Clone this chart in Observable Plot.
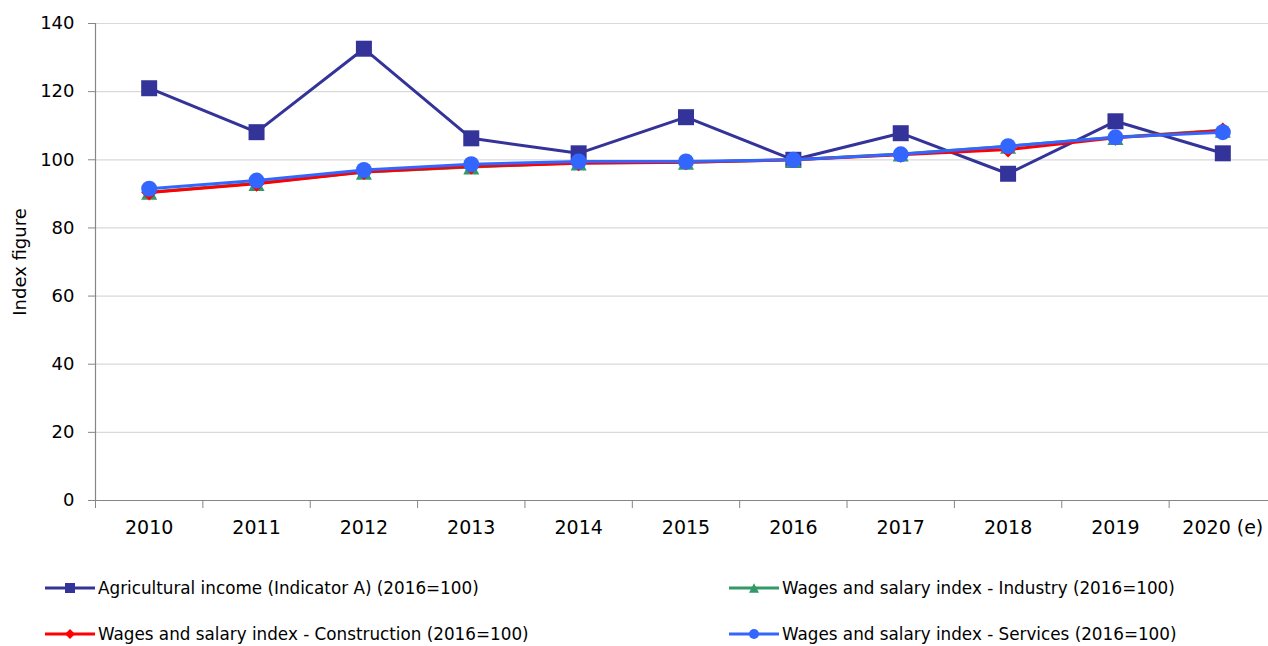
<!DOCTYPE html>
<html>
<head>
<meta charset="utf-8">
<script src="https://cdn.jsdelivr.net/npm/d3@7"></script>
<script src="https://cdn.jsdelivr.net/npm/@observablehq/plot@0.6"></script>
<style>
  html, body { margin: 0; padding: 0; background: #fff; }
  #wrap { position: relative; width: 1268px; height: 646px; overflow: hidden; font-family: "DejaVu Sans", Verdana, sans-serif; }
  #chart { position: absolute; left: 0; top: 0; }
  .lg { position: absolute; display: flex; align-items: center; font-size: 16.8px; line-height: 20px; color: #000; white-space: nowrap; }
  .lg svg { display: block; margin-right: 3px; }
</style>
</head>
<body>
<div id="wrap"><div id="chart"></div></div>
<script>
// ---- data ----
const years = [2010, 2011, 2012, 2013, 2014, 2015, 2016, 2017, 2018, 2019, 2020];
const yearLabels = ["2010", "2011", "2012", "2013", "2014", "2015", "2016", "2017", "2018", "2019", "2020 (e)"];
const agricultural = [121.0, 108.1, 132.6, 106.3, 101.9, 112.5, 100.0, 107.8, 95.9, 111.3, 101.9];
const industry     = [90.5, 93.1, 96.4, 97.9, 99.1, 99.3, 100.0, 101.7, 104.0, 106.6, 108.7];
const construction = [90.4, 93.0, 96.4, 98.0, 99.0, 99.3, 100.0, 101.5, 103.0, 106.5, 108.6];
const services     = [91.5, 93.9, 97.0, 98.7, 99.5, 99.5, 100.0, 101.6, 104.0, 106.6, 108.1];
const seriesNames = [
  "Agricultural income (Indicator A) (2016=100)",
  "Wages and salary index - Industry (2016=100)",
  "Wages and salary index - Construction (2016=100)",
  "Wages and salary index - Services (2016=100)"
];
const seriesValues = [agricultural, industry, construction, services];
const seriesColors = ["#333399", "#339966", "#ff0000", "#3366ff"];
const seriesShapes = ["square", "triangle", "diamond", "circle"];
const yTicks = [0, 20, 40, 60, 80, 100, 120, 140];
const yTitle = "Index figure";

// ---- marker shapes (centred on their bounding box, like spreadsheet markers) ----
function makeSymbol(kind) {
  return {
    draw(ctx, size) {
      const r = Math.sqrt(size / Math.PI);
      if (kind === "square") {
        ctx.moveTo(-r, -r); ctx.lineTo(r, -r); ctx.lineTo(r, r); ctx.lineTo(-r, r); ctx.closePath();
      } else if (kind === "triangle") {
        const h = r * 0.95;
        ctx.moveTo(0, -h); ctx.lineTo(r, h); ctx.lineTo(-r, h); ctx.closePath();
      } else if (kind === "diamond") {
        ctx.moveTo(0, -r); ctx.lineTo(r, 0); ctx.lineTo(0, r); ctx.lineTo(-r, 0); ctx.closePath();
      } else {
        ctx.moveTo(r, 0); ctx.arc(0, 0, r, 0, 2 * Math.PI); ctx.closePath();
      }
    }
  };
}

const xDomain = [years[0] - 0.5, years[years.length - 1] + 0.5];
const boundaries = years.map(y => y - 0.5);
const axisGray = "#868686";

const marks = [
  Plot.gridY(yTicks, {stroke: "#d9d9d9", strokeOpacity: 1, strokeWidth: 1.2}),
  Plot.ruleY([0], {stroke: axisGray, strokeWidth: 1.2}),
  Plot.ruleX([xDomain[0]], {y1: yTicks[0], y2: yTicks[yTicks.length - 1], stroke: axisGray, strokeWidth: 1.2}),
  Plot.axisY(yTicks, {tickSize: 7, tickPadding: 14, stroke: axisGray, label: null, fontSize: 18}),
  Plot.axisX(boundaries, {tickSize: 8, tickFormat: () => "", stroke: axisGray, label: null}),
  Plot.axisX(years, {tickSize: 0, tickPadding: 20, label: null, fontSize: 19,
    tickFormat: d => yearLabels[years.indexOf(d)]})
];

seriesValues.forEach((vals, i) => {
  const rows = vals.map((v, j) => ({year: years[j], value: v}));
  marks.push(Plot.line(rows, {x: "year", y: "value", stroke: seriesColors[i], strokeWidth: 3}));
  marks.push(Plot.dot(rows, {x: "year", y: "value", r: 8, symbol: makeSymbol(seriesShapes[i]),
    fill: seriesColors[i], stroke: "none"}));
});

marks.push(Plot.text([yTitle], {frameAnchor: "left", dx: -75, rotate: -90, textAnchor: "middle", fontSize: 18, fill: "#000"}));

const chart = Plot.plot({
  width: 1268,
  height: 550,
  marginTop: 23,
  marginBottom: 50,
  marginLeft: 95,
  marginRight: 0,
  style: {fontFamily: "'DejaVu Sans', Verdana, sans-serif", fontSize: "18px", color: "#000", background: "transparent", overflow: "visible"},
  x: {type: "linear", domain: xDomain, range: [95, 1276]},
  y: {domain: [yTicks[0], yTicks[yTicks.length - 1]]},
  marks
});
document.getElementById("chart").appendChild(chart);

// ---- legend ----
const wrap = d3.select("#wrap");
const legendPos = [[45, 588], [729, 588], [45, 634], [729, 634]];
seriesNames.forEach((name, i) => {
  const item = wrap.append("div").attr("class", "lg")
    .style("left", legendPos[i][0] + "px").style("top", (legendPos[i][1] - 10) + "px").style("height", "20px");
  const svg = item.append("svg").attr("width", 50).attr("height", 20);
  svg.append("line").attr("x1", 0).attr("x2", 50).attr("y1", 10).attr("y2", 10)
    .attr("stroke", seriesColors[i]).attr("stroke-width", 3);
  svg.append("path").attr("transform", "translate(25,10)")
    .attr("d", d3.symbol(makeSymbol(seriesShapes[i]), Math.PI * 25)())
    .attr("fill", seriesColors[i]);
  item.append("span").text(name);
});
</script>
</body>
</html>
